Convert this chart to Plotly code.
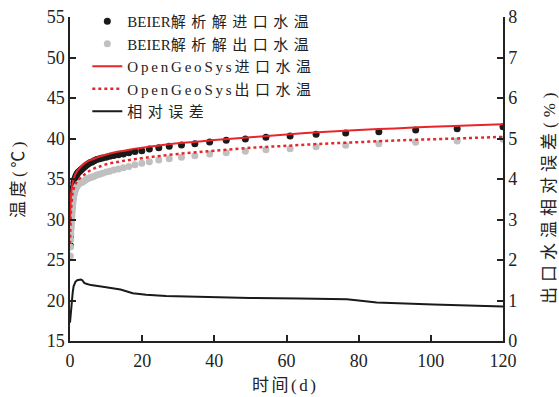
import plotly.graph_objects as go

# ---- data ----
dot_t = [0.1, 0.15, 0.2, 0.25, 0.3, 0.35, 0.4, 0.45, 0.5, 0.55, 0.6, 0.68, 0.75, 0.85, 0.95,
         1.05, 1.2, 1.3, 1.45, 1.6, 1.8, 2.0, 2.2, 2.45, 2.7, 3.0, 3.3, 3.7, 4.1, 4.5, 5.0,
         5.5, 6.1, 6.7, 7.4, 8.2, 9.0, 10.0, 11.0, 12.1, 13.4, 14.8, 16.3, 18.0, 19.9,
         22.0, 24.6, 27.5, 30.9, 34.6, 38.7, 43.3, 48.6, 54.3, 61.0, 68.2, 76.4, 85.6,
         95.8, 107.3, 120.0]
beier_in = [26.8, 28.0, 29.0, 29.7, 30.3, 30.8, 31.2, 31.6, 31.9, 32.2, 32.5, 32.9, 33.2, 33.6, 34.0,
            34.5, 34.8, 34.95, 35.1, 35.3, 35.5, 35.65, 35.8, 35.9, 36.0, 36.1, 36.25, 36.4, 36.55, 36.7, 36.85,
            37.0, 37.1, 37.25, 37.4, 37.5, 37.6, 37.7, 37.8, 37.9, 38.0, 38.1, 38.25, 38.38, 38.5,
            38.7, 38.86, 39.03, 39.2, 39.36, 39.57, 39.78, 39.94, 40.15, 40.31, 40.52, 40.68, 40.84,
            41.05, 41.21, 41.46]
beier_out = [25.5, 26.6, 27.5, 28.2, 28.8, 29.3, 29.7, 30.1, 30.4, 30.7, 31.0, 31.4, 31.7, 32.1, 32.5,
             32.9, 33.2, 33.4, 33.6, 33.8, 34.0, 34.15, 34.3, 34.4, 34.5, 34.55, 34.6, 34.7, 34.8, 34.95, 35.05,
             35.15, 35.25, 35.35, 35.5, 35.6, 35.7, 35.85, 35.95, 36.1, 36.25, 36.4, 36.55, 36.75, 36.94,
             37.14, 37.35, 37.51, 37.68, 37.88, 38.09, 38.25, 38.42, 38.62, 38.74, 38.99, 39.16, 39.36,
             39.53, 39.69, 39.9]

ogs_t = [0, 0.05, 0.1, 0.2, 0.3, 0.5, 0.75, 1.1, 1.5, 2.0, 3.0, 3.9, 5, 6.7, 8, 10.3, 12.5, 15, 18,
         21.4, 25, 30, 35, 40, 50, 60, 70, 80, 90, 100, 110, 120]
ogs_in = [29.5, 30.5, 31.3, 32.3, 33.0, 33.8, 34.5, 35.1, 35.6, 36.0, 36.5, 36.9, 37.2, 37.5, 37.75,
          38.05, 38.3, 38.5, 38.75, 38.95, 39.15, 39.4, 39.6, 39.8, 40.15, 40.5, 40.8, 41.05, 41.25,
          41.45, 41.6, 41.75]
ogs_out = [27.0, 28.0, 29.0, 30.3, 31.2, 32.3, 33.3, 33.9, 34.4, 34.75, 35.2, 35.5, 35.9, 36.3, 36.5,
           36.85, 37.05, 37.25, 37.45, 37.65, 37.85, 38.1, 38.3, 38.5, 38.85, 39.1, 39.35, 39.55, 39.75,
           39.9, 40.05, 40.2]

err_t = [0.0, 0.3, 0.5, 0.75, 1.0, 1.5, 2.0, 3.0, 3.4, 4.0, 5.0, 5.8, 9.1, 12.7, 14.0, 17.4, 21.1,
         26.6, 35.8, 49.9, 63.7, 76.7, 80.0, 85.0, 100.7, 120.0]
err_v = [0.45, 0.8, 1.1, 1.2, 1.35, 1.46, 1.5, 1.52, 1.5, 1.43, 1.4, 1.38, 1.34, 1.28, 1.27, 1.18, 1.14,
         1.11, 1.09, 1.06, 1.05, 1.03, 1.0, 0.95, 0.9, 0.85]

# legend names: (latin part, chinese part)
name_parts = [("BEIER", "解析解进口水温"), ("BEIER", "解析解出口水温"),
              ("OpenGeoSys", "进口水温"), ("OpenGeoSys", "出口水温"), ("", "相对误差")]
x_ticks = [0, 20, 40, 60, 80, 100, 120]
y_ticks = [15, 20, 25, 30, 35, 40, 45, 50, 55]
y2_ticks = [0, 1, 2, 3, 4, 5, 6, 7, 8]

FONT = "Liberation Serif, 'Noto Sans CJK SC', serif"
RED = "#e8262a"


def spaced(latin, cjk, ls_latin, ls_cjk):
    out = ""
    if latin:
        out += f"<span style='letter-spacing:{ls_latin}px'>{latin}</span>"
    out += f"<span style='letter-spacing:{ls_cjk}px'>{cjk}</span>"
    return out


names = []
for lat, cjk in name_parts:
    names.append(spaced(lat, cjk, 2.8 if lat == "OpenGeoSys" else 0, 5.5))

fig = go.Figure()
fig.add_trace(go.Scatter(x=dot_t, y=beier_in, mode="markers", name=names[0],
                         marker=dict(color="#1a1a1a", size=7)))
fig.add_trace(go.Scatter(x=dot_t, y=beier_out, mode="markers", name=names[1],
                         marker=dict(color="#c0c0c0", size=7)))
fig.add_trace(go.Scatter(x=ogs_t, y=ogs_in, mode="lines", name=names[2],
                         line=dict(color=RED, width=2, shape="spline")))
fig.add_trace(go.Scatter(x=ogs_t, y=ogs_out, mode="lines", name=names[3],
                         line=dict(color=RED, width=2.5, dash="dot", shape="spline")))
fig.add_trace(go.Scatter(x=err_t, y=err_v, mode="lines", name=names[4], yaxis="y2",
                         line=dict(color="#1a1a1a", width=2)))

axis_common = dict(showline=True, linecolor="#222", linewidth=1.5, ticks="inside", ticklen=6,
                   tickcolor="#222", tickwidth=1.5, showgrid=False, zeroline=False,
                   tickfont=dict(family=FONT, size=18, color="#222"))

ML, MR, MT, MB = 70, 56, 17, 56
W, H = 559, 397
fig.update_layout(
    width=W, height=H,
    margin=dict(l=ML, r=MR, t=MT, b=MB, autoexpand=False),
    paper_bgcolor="white", plot_bgcolor="white",
    font=dict(family=FONT, color="#222"),
    xaxis=dict(range=[0, 120], tickvals=x_ticks, ticklabelstandoff=3, **axis_common),
    yaxis=dict(range=[15, 55], tickvals=y_ticks, **axis_common),
    yaxis2=dict(range=[0, 8], tickvals=y2_ticks, overlaying="y", side="right", **axis_common),
    legend=dict(x=0.04, y=1 - 5 / H, yref="container", xanchor="left", yanchor="top",
                bgcolor="rgba(0,0,0,0)",
                font=dict(family=FONT, size=15, color="#222"), tracegroupgap=0, itemwidth=30),
    showlegend=True,
)
# pixel-placed titles converted to paper coordinates
W0, H0 = W - ML - MR, H - MT - MB
def px2paper(px, py):
    return (px - ML) / W0, (H - MB - py) / H0

titles = [("<span style='letter-spacing:3.5px'>温度(℃)</span>", 18, 178, -90),
          ("<span style='letter-spacing:5px'>出口水温相对误差(%)</span>", 549, 196, -90),
          ("<span style='letter-spacing:2.5px'>时间(d)</span>", 285, 385, 0)]
for txt, px, py, ang in titles:
    xx, yy = px2paper(px, py)
    fig.add_annotation(text=txt, x=xx, y=yy, xref="paper", yref="paper", showarrow=False,
                       textangle=ang, xanchor="center", yanchor="middle",
                       font=dict(family=FONT, size=17, color="#222"))

fig.write_html("out.html")
